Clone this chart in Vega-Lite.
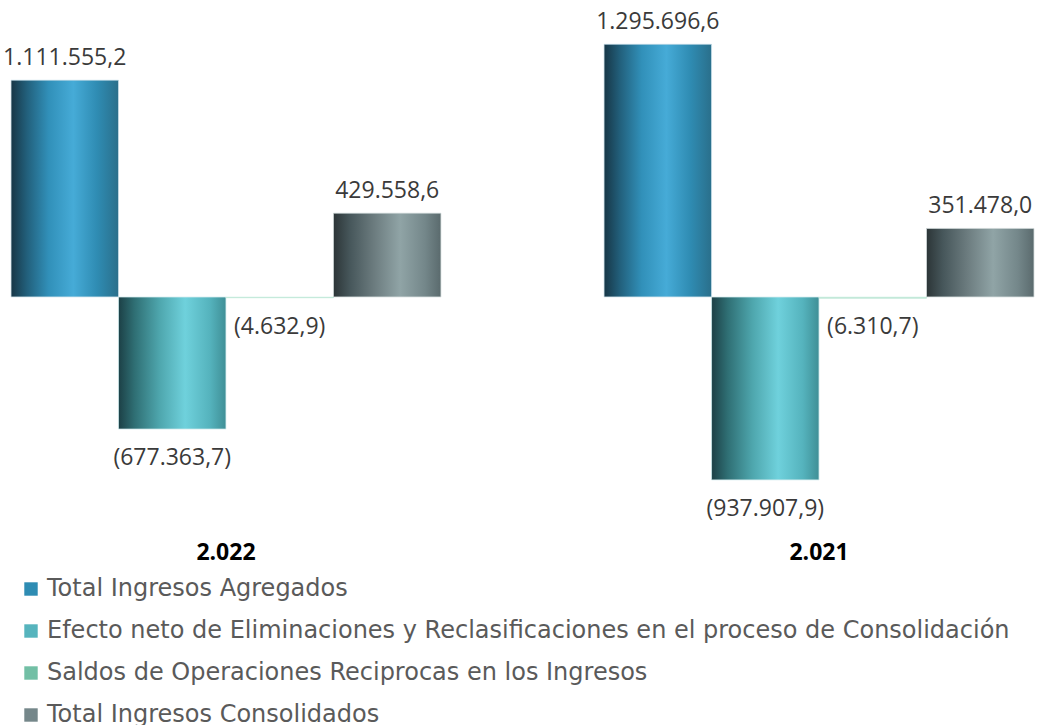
{
  "$schema": "https://vega.github.io/schema/vega-lite/v6.json",
  "width": 1023,
  "height": 535,
  "autosize": {"type": "none"},
  "padding": {"left": 11, "top": 5, "right": 6, "bottom": 185},
  "background": "white",
  "config": {
    "view": {"stroke": null},
    "font": "Open Sans",
    "locale": {"number": {"decimal": ",", "thousands": ".", "grouping": [3], "currency": ["$", ""]}}
  },
  "data": {
    "values": [
      {"year": "2.022", "serie": "Total Ingresos Agregados", "valor": 1111555.2},
      {"year": "2.022", "serie": "Efecto neto de Eliminaciones y Reclasificaciones en el proceso de Consolidación", "valor": -677363.7},
      {"year": "2.022", "serie": "Saldos de Operaciones Reciprocas en los Ingresos", "valor": -4632.9},
      {"year": "2.022", "serie": "Total Ingresos Consolidados", "valor": 429558.6},
      {"year": "2.021", "serie": "Total Ingresos Agregados", "valor": 1295696.6},
      {"year": "2.021", "serie": "Efecto neto de Eliminaciones y Reclasificaciones en el proceso de Consolidación", "valor": -937907.9},
      {"year": "2.021", "serie": "Saldos de Operaciones Reciprocas en los Ingresos", "valor": -6310.7},
      {"year": "2.021", "serie": "Total Ingresos Consolidados", "valor": 351478.0}
    ]
  },
  "encoding": {
    "x": {
      "field": "year", "type": "nominal", "sort": null,
      "scale": {"paddingInner": 0.275, "paddingOuter": 0},
      "axis": {"title": null, "domain": false, "ticks": false, "labelAngle": 0, "labelFontSize": 23, "labelFontWeight": "bold", "labelColor": "#000000", "labelPadding": 1}
    },
    "xOffset": {
      "field": "serie", "type": "nominal", "sort": null,
      "scale": {"paddingInner": 0, "paddingOuter": 0}
    },
    "y": {
      "field": "valor", "type": "quantitative",
      "scale": {"domain": [-1246000, 1497000], "nice": false, "zero": true},
      "axis": null
    }
  },
  "layer": [
    {
      "mark": {"type": "bar"},
      "encoding": {
        "color": {
          "field": "serie", "type": "nominal", "sort": null,
          "scale": {
            "domain": ["Total Ingresos Agregados", "Efecto neto de Eliminaciones y Reclasificaciones en el proceso de Consolidación", "Saldos de Operaciones Reciprocas en los Ingresos", "Total Ingresos Consolidados"],
            "range": ["#2e8cb3", "#56b4bd", "#72bfa5", "#75878a"]
          },
          "legend": {
            "title": null, "orient": "none", "legendX": 8, "legendY": 572, "direction": "vertical",
            "symbolType": "square", "symbolSize": 180, "symbolStrokeWidth": 0,
            "labelFont": "DejaVu Sans", "labelFontSize": 24, "labelColor": "#5a5a5a", "labelLimit": 1100, "rowPadding": 18, "labelOffset": 4
          }
        }
      }
    },
    {
      "transform": [{"filter": "datum.serie === 'Total Ingresos Agregados'"}],
      "mark": {"type": "bar", "stroke": "#d6e6ee", "strokeWidth": 0.8,
        "color": {"gradient": "linear", "x1": 0, "y1": 0, "x2": 1, "y2": 0,
          "stops": [
            {"offset": 0, "color": "#173646"},
            {"offset": 0.15, "color": "#22607c"},
            {"offset": 0.35, "color": "#3190b9"},
            {"offset": 0.58, "color": "#46abd7"},
            {"offset": 0.8, "color": "#2f8cb3"},
            {"offset": 1, "color": "#2a6f8b"}
          ]}
      }
    },
    {
      "transform": [{"filter": "datum.serie === 'Efecto neto de Eliminaciones y Reclasificaciones en el proceso de Consolidación'"}],
      "mark": {"type": "bar", "stroke": "#d8eef0", "strokeWidth": 0.8,
        "color": {"gradient": "linear", "x1": 0, "y1": 0, "x2": 1, "y2": 0,
          "stops": [
            {"offset": 0, "color": "#1c4046"},
            {"offset": 0.15, "color": "#2f6f74"},
            {"offset": 0.38, "color": "#4ea6ad"},
            {"offset": 0.62, "color": "#6fd1dc"},
            {"offset": 0.85, "color": "#55b3bd"},
            {"offset": 1, "color": "#3f8f96"}
          ]}
      }
    },
    {
      "transform": [{"filter": "datum.serie === 'Saldos de Operaciones Reciprocas en los Ingresos'"}],
      "mark": {"type": "bar", "color": "#bfe6d6", "stroke": "#cdeee2", "strokeWidth": 0.5}
    },
    {
      "transform": [{"filter": "datum.serie === 'Total Ingresos Consolidados'"}],
      "mark": {"type": "bar", "stroke": "#d8dfe0", "strokeWidth": 0.8,
        "color": {"gradient": "linear", "x1": 0, "y1": 0, "x2": 1, "y2": 0,
          "stops": [
            {"offset": 0, "color": "#2c3537"},
            {"offset": 0.15, "color": "#46565a"},
            {"offset": 0.38, "color": "#6c7c7f"},
            {"offset": 0.62, "color": "#90a4a6"},
            {"offset": 0.85, "color": "#74878a"},
            {"offset": 1, "color": "#5a6a6d"}
          ]}
      }
    },
    {
      "transform": [{"filter": "datum.valor >= 0"}],
      "mark": {"type": "text", "baseline": "bottom", "dy": -10, "fontSize": 23, "color": "#3a3a3a"},
      "encoding": {"text": {"field": "valor", "type": "quantitative", "format": "(,.1f"}}
    },
    {
      "transform": [{"filter": "datum.valor < 0"}],
      "mark": {"type": "text", "baseline": "top", "dy": 18, "fontSize": 23, "color": "#3a3a3a"},
      "encoding": {"text": {"field": "valor", "type": "quantitative", "format": "(,.1f"}}
    }
  ]
}
